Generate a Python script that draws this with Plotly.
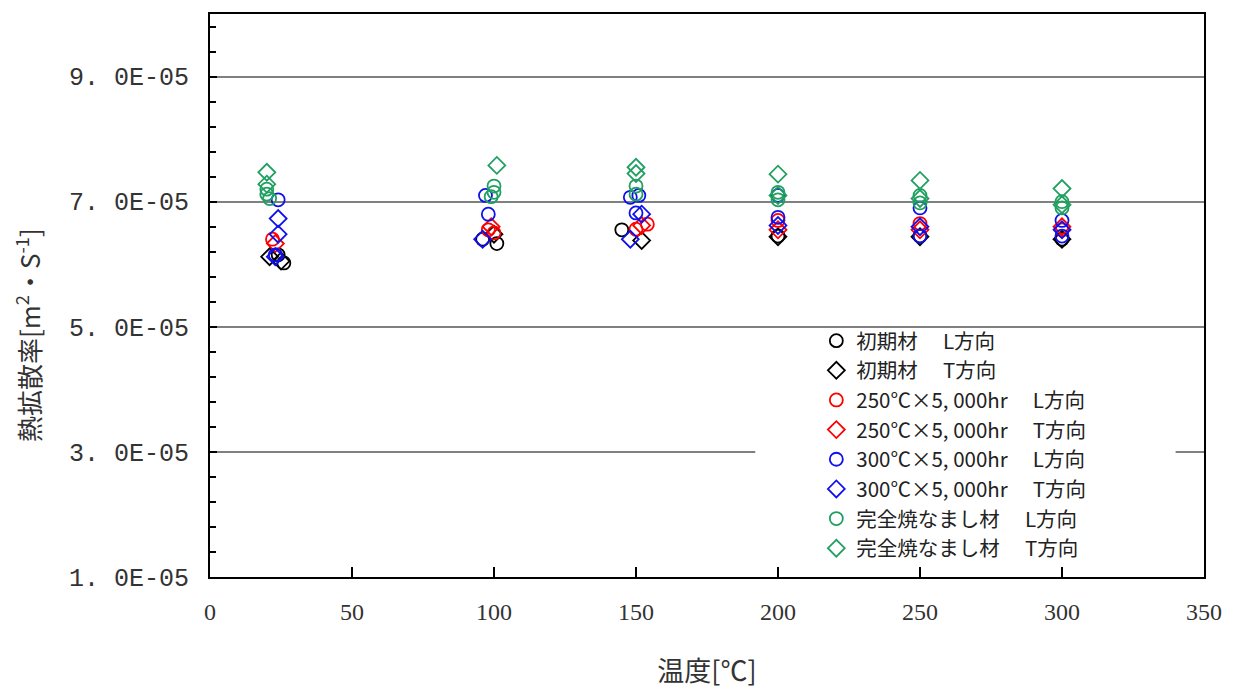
import plotly.graph_objects as go

# values in units of 1E-05 m2/s
s1_name = "初期材　 L方向"
s1_x = [24, 26, 96, 101, 145, 200, 250, 300]
s1_y = [6.15, 6.02, 6.40, 6.33, 6.55, 6.45, 6.45, 6.40]

s2_name = "初期材　 T方向"
s2_x = [21, 25, 100, 152, 200, 250, 300]
s2_y = [6.12, 6.05, 6.48, 6.38, 6.44, 6.44, 6.40]

s3_name = "250℃×5, 000hr　 L方向"
s3_x = [22, 98, 100, 150, 154, 200, 250, 300]
s3_y = [6.40, 6.55, 6.50, 6.56, 6.64, 6.70, 6.65, 6.55]

s4_name = "250℃×5, 000hr　 T方向"
s4_x = [23, 99, 152, 200, 250, 300]
s4_y = [6.33, 6.60, 6.62, 6.55, 6.55, 6.60]

s5_name = "300℃×5, 000hr　 L方向"
s5_x = [24, 23, 97, 98, 148, 151, 150, 200, 200, 250, 250, 300, 300]
s5_y = [7.03, 6.15, 7.10, 6.80, 7.07, 7.10, 6.82, 7.10, 6.75, 6.90, 6.45, 6.70, 6.45]

s6_name = "300℃×5, 000hr　 T方向"
s6_x = [24, 24, 23, 96, 148, 152, 200, 250, 300]
s6_y = [6.73, 6.48, 6.12, 6.40, 6.40, 6.80, 6.62, 6.60, 6.55]

s7_name = "完全焼なまし材　 L方向"
s7_x = [20, 20, 21, 100, 100, 99, 150, 150, 200, 200, 250, 250, 300, 300]
s7_y = [7.20, 7.12, 7.05, 7.25, 7.15, 7.08, 7.25, 7.12, 7.15, 7.03, 7.10, 6.98, 7.00, 6.90]

s8_name = "完全焼なまし材　 T方向"
s8_x = [20, 20, 101, 150, 150, 200, 200, 250, 250, 300, 300]
s8_y = [7.47, 7.28, 7.58, 7.55, 7.45, 7.44, 7.10, 7.34, 7.05, 7.21, 6.95]

y_tickvals = [1e-5, 3e-5, 5e-5, 7e-5, 9e-5]
y_ticktext = ["1. 0E-05", "3. 0E-05", "5. 0E-05", "7. 0E-05", "9. 0E-05"]
x_tickvals = [0, 50, 100, 150, 200, 250, 300, 350]

series = [
    (s1_name, s1_x, s1_y, "circle-open", "#000000"),
    (s2_name, s2_x, s2_y, "diamond-open", "#000000"),
    (s3_name, s3_x, s3_y, "circle-open", "#ff0000"),
    (s4_name, s4_x, s4_y, "diamond-open", "#ff0000"),
    (s5_name, s5_x, s5_y, "circle-open", "#1010ee"),
    (s6_name, s6_x, s6_y, "diamond-open", "#1010ee"),
    (s7_name, s7_x, s7_y, "circle-open", "#20a060"),
    (s8_name, s8_x, s8_y, "diamond-open", "#20a060"),
]

fig = go.Figure()
for name, xs, ys, sym, col in series:
    fig.add_trace(go.Scatter(
        x=xs, y=[v * 1e-5 for v in ys], mode="markers", name=name,
        marker=dict(symbol=sym, size=13, color=col, line=dict(width=1.8, color=col)),
    ))

fig.add_shape(type="rect", xref="x", yref="y", x0=192, x1=340, y0=2.9e-5, y1=3.1e-5,
              fillcolor="white", line=dict(width=0), layer="between")

fig.add_annotation(text="熱拡散率[m<sup>2</sup>・S<sup>-1</sup>]", textangle=-90,
                   xref="paper", yref="paper", x=-0.183, y=0.43,
                   xanchor="center", yanchor="middle", showarrow=False,
                   font=dict(family="Noto Sans CJK JP", size=26, color="#333"))

fig.update_layout(
    width=1242, height=694,
    margin=dict(l=210, r=38, t=12, b=117),
    paper_bgcolor="white", plot_bgcolor="white",
    showlegend=True,
    legend=dict(x=0.61, y=0.455, xanchor="left", yanchor="top",
                font=dict(family="Noto Sans CJK JP", size=20.5, color="#222"),
                bgcolor="rgba(255,255,255,0)", borderwidth=0, tracegroupgap=0),
    xaxis=dict(range=[0, 350], tickvals=x_tickvals, showgrid=False, zeroline=False,
               showline=True, mirror=True, linecolor="black", linewidth=2,
               ticks="inside", ticklen=10, tickwidth=2, tickcolor="black",
               ticklabelstandoff=12,
               tickfont=dict(family="Liberation Serif", size=24, color="#333"),
               title=dict(text="温度[℃]", font=dict(family="Noto Sans CJK JP", size=27, color="#333"),
                          standoff=38)),
    yaxis=dict(range=[1e-5, 1e-4], tickvals=y_tickvals, ticktext=y_ticktext,
               showgrid=True, gridcolor="#808080", gridwidth=1.5, zeroline=False,
               showline=True, mirror=True, linecolor="black", linewidth=2,
               ticks="inside", ticklen=7, tickwidth=2, tickcolor="black",
               ticklabelstandoff=14,
               minor=dict(dtick=0.4e-5, tick0=1e-5, ticks="inside", ticklen=6, tickwidth=2,
                          tickcolor="black", showgrid=False),
               tickfont=dict(family="Liberation Mono", size=25, color="#333")),
)

fig.write_html("out.html")
